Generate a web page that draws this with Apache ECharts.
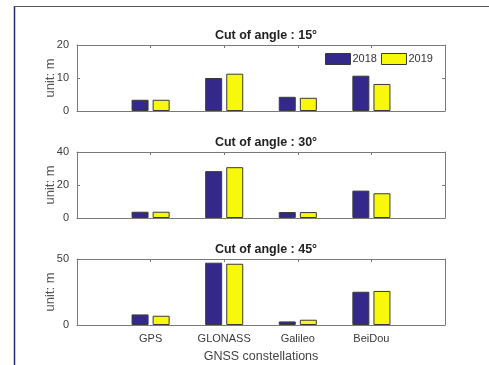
<!DOCTYPE html>
<html>
<head>
<meta charset="utf-8">
<script src="https://cdn.jsdelivr.net/npm/echarts@6/dist/echarts.min.js"></script>
<style>
  html, body { margin: 0; padding: 0; background: #fff; }
  #chart { width: 489px; height: 365px; }
</style>
</head>
<body>
<div id="chart"></div>
<script>
// GNSS constellations and yearly values (unit: m) for three cut-off angles
const constellations = ['GPS', 'GLONASS', 'Galileo', 'BeiDou'];
const years = ['2018', '2019'];
const panelTitles = ['Cut of angle : 15°', 'Cut of angle : 30°', 'Cut of angle : 45°'];
const yMax = [20, 40, 50];
const yInterval = [10, 20, 50];

const angle15_2018 = [3.4, 10.0, 4.3, 10.7];
const angle15_2019 = [3.4, 11.3, 4.0, 8.2];
const angle30_2018 = [3.8, 28.4, 3.6, 16.6];
const angle30_2019 = [3.8, 30.8, 3.6, 15.0];
const angle45_2018 = [8.0, 47.2, 2.7, 25.2];
const angle45_2019 = [7.0, 46.4, 4.0, 25.8];

const panels = [
  [angle15_2018, angle15_2019],
  [angle30_2018, angle30_2019],
  [angle45_2018, angle45_2019]
];

const colors = ['#34298a', '#f8f80a'];
const axisGray = '#7a7a7a';
const fontFamily = '"Liberation Sans", Arial, Helvetica, sans-serif';

// empty slots at both ends give the half-empty margins on each side
const axisCats = [''].concat(constellations, ['']);
const pad = arr => [null].concat(arr, [null]);

const gridTops = [45, 152, 259];
const gridH = 66;

const grid = [], xAxis = [], yAxis = [], series = [], title = [];

panels.forEach((vals, i) => {
  grid.push({ left: 77, right: 44, top: gridTops[i], height: gridH });
  title.push({
    text: panelTitles[i], left: 261, textAlign: 'center', top: gridTops[i] - 21,
    textStyle: { fontSize: 12.5, fontWeight: 'bold', color: '#222', fontFamily }
  });
  const last = i === panels.length - 1;
  xAxis.push({
    type: 'category', gridIndex: i, data: axisCats, boundaryGap: false, position: 'bottom',
    axisLine: { onZero: false, lineStyle: { color: axisGray } },
    axisTick: { show: false },
    axisLabel: { show: last, color: '#3a3a3a', fontSize: 11, margin: 8, fontFamily, interval: 0 },
    name: last ? 'GNSS constellations' : '', nameLocation: 'middle', nameGap: 25, nameMoveOverlap: false,
    nameTextStyle: { color: '#444', fontSize: 12.5, fontFamily },
    splitLine: { show: false }
  });
  xAxis.push({
    type: 'category', gridIndex: i, data: axisCats, boundaryGap: false, position: 'top',
    axisLine: { onZero: false, lineStyle: { color: axisGray } },
    axisTick: { show: true, inside: true, length: 3, interval: 0, lineStyle: { color: axisGray } },
    axisLabel: { show: false }, splitLine: { show: false }
  });
  yAxis.push({
    type: 'value', gridIndex: i, min: 0, max: yMax[i], interval: yInterval[i], position: 'left',
    axisLine: { show: true, onZero: false, lineStyle: { color: axisGray } },
    axisTick: { show: true, inside: true, length: 3, lineStyle: { color: axisGray } },
    axisLabel: { color: '#3a3a3a', fontSize: 11, margin: 8, fontFamily },
    splitLine: { show: false },
    name: 'unit: m', nameLocation: 'middle', nameGap: 20, nameRotate: 90, nameMoveOverlap: false,
    nameTextStyle: { color: '#555', fontSize: 13, fontFamily }
  });
  yAxis.push({
    type: 'value', gridIndex: i, min: 0, max: yMax[i], interval: yInterval[i], position: 'right',
    axisLine: { show: true, onZero: false, lineStyle: { color: axisGray } },
    axisTick: { show: true, inside: true, length: 3, lineStyle: { color: axisGray } },
    axisLabel: { show: false }, splitLine: { show: false }
  });
  vals.forEach((arr, k) => {
    series.push({
      type: 'bar', name: years[k], xAxisIndex: i * 2, yAxisIndex: i * 2,
      data: pad(arr), barWidth: 17, barGap: '24%',
      itemStyle: { color: colors[k], borderColor: '#3a3a3a', borderWidth: 1 },
      emphasis: { disabled: true }, animation: false
    });
  });
});

const chart = echarts.init(document.getElementById('chart'), null, { renderer: 'canvas' });
chart.setOption({
  backgroundColor: '#fff',
  animation: false,
  title,
  color: colors,
  legend: {
    data: years, left: 325, top: 53, padding: 0, itemWidth: 25, itemHeight: 11, itemGap: 4,
    icon: 'rect',
    itemStyle: { borderColor: '#3a3a3a', borderWidth: 1 },
    textStyle: { fontSize: 11, color: '#333', fontFamily, padding: [0, 0, 0, -3] },
    selectedMode: false
  },
  grid, xAxis, yAxis, series,
  graphic: [
    { type: 'line', shape: { x1: 14.5, y1: 6, x2: 14.5, y2: 365 }, style: { stroke: '#1f2a6b', lineWidth: 1.5 }, silent: true },
    { type: 'line', shape: { x1: 14, y1: 6.5, x2: 489, y2: 6.5 }, style: { stroke: '#555', lineWidth: 1 }, silent: true }
  ]
});
</script>
</body>
</html>
